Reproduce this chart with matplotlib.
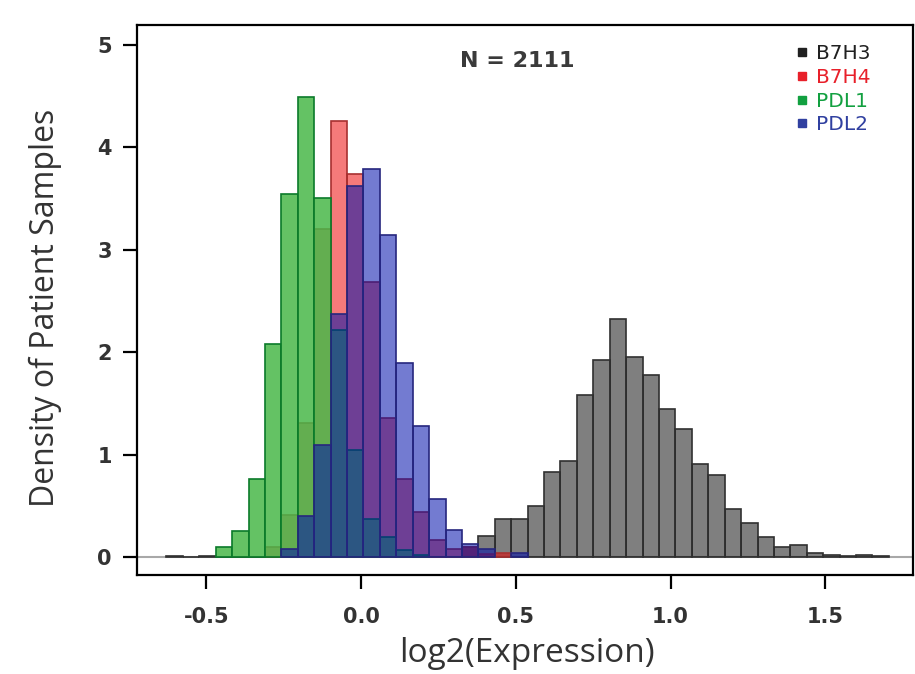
import numpy as np
import matplotlib
matplotlib.use("Agg")
import matplotlib.pyplot as plt
from matplotlib.lines import Line2D

# ==== Data (density per bin) ====
BIN_START = -0.62865
BIN_WIDTH = 0.05305

b7h3 = [0.01, 0.005, 0.01,
        0, 0, 0, 0, 0, 0, 0, 0, 0, 0, 0, 0, 0, 0, 0,
        0.10, 0.21, 0.38, 0.38, 0.50, 0.83, 0.94, 1.59, 1.93, 2.33, 1.96,
        1.78, 1.45, 1.25, 0.91, 0.80, 0.47, 0.34, 0.20, 0.10, 0.12, 0.04,
        0.02, 0.01, 0.02, 0.01]
b7h4 = [0, 0, 0, 0, 0, 0,
        0.10, 0.41, 1.31, 3.20, 4.26, 3.74, 2.69, 1.36, 0.77, 0.44, 0.17,
        0.08, 0.10, 0.03, 0.04,
        0, 0, 0, 0, 0, 0, 0, 0, 0, 0, 0, 0, 0, 0, 0, 0, 0, 0, 0, 0, 0, 0, 0]
pdl1 = [0, 0, 0,
        0.105, 0.26, 0.77, 2.08, 3.55, 4.49, 3.51, 2.22, 1.05, 0.38, 0.20,
        0.07, 0.02,
        0, 0, 0, 0, 0, 0, 0, 0, 0, 0, 0, 0, 0, 0, 0, 0, 0, 0, 0, 0, 0, 0, 0,
        0, 0, 0, 0, 0]
pdl2 = [0, 0, 0, 0, 0, 0, 0,
        0.08, 0.40, 1.10, 2.38, 3.62, 3.79, 3.15, 1.90, 1.28, 0.57, 0.27,
        0.13, 0.08, 0.0, 0.04,
        0, 0, 0, 0, 0, 0, 0, 0, 0, 0, 0, 0, 0, 0, 0, 0, 0, 0, 0, 0, 0, 0]

series_names = ["B7H3", "B7H4", "PDL1", "PDL2"]
x_ticks = [-0.5, 0.0, 0.5, 1.0, 1.5]
x_tick_labels = ["-0.5", "0.0", "0.5", "1.0", "1.5"]
y_ticks = [0, 1, 2, 3, 4, 5]
n_samples = 2111

# ==== Styles ====
FACE = [(0, 0, 0, 0.5),
        (0.93, 0, 0, 0.52),
        (73 / 255, 184 / 255, 73 / 255, 0.85),
        (0, 15 / 255, 172 / 255, 0.55)]
EDGE = ["#303030", "#a83030", "#0b7a2a", "#26267e"]
LEGEND_COLORS = ["#202020", "#e8202a", "#12a040", "#3040a0"]
TEXT_GRAY = "#333333"

fig = plt.figure(figsize=(9.15, 6.74), dpi=100)
ax = fig.add_axes([137 / 915, 99 / 674, 776 / 915, 550 / 674])

edges = BIN_START + BIN_WIDTH * np.arange(len(b7h3))
ax.axhline(0, color="#a8a8a8", lw=1.5, zorder=0.5)

for i, vals in enumerate([b7h3, b7h4, pdl1, pdl2]):
    vals = np.asarray(vals, dtype=float)
    keep = np.ones_like(vals, dtype=bool) if i == 0 else vals > 0
    ax.bar(edges[keep], vals[keep], width=BIN_WIDTH, align="edge",
           facecolor=FACE[i], edgecolor=EDGE[i], linewidth=1.2, zorder=1)

ax.set_xlim(-0.7237, 1.7835)
ax.set_ylim(-0.171, 5.195)

tick_font = {"family": "DejaVu Sans", "weight": "bold", "size": 15}
ax.set_xticks(x_ticks)
ax.set_xticklabels(x_tick_labels, fontdict=tick_font)
ax.set_yticks(y_ticks)
ax.set_yticklabels([str(t) for t in y_ticks], fontdict=tick_font)
ax.tick_params(axis="both", direction="out", length=10, width=1.6,
               colors="black", labelcolor=TEXT_GRAY, labelsize=15)
ax.tick_params(axis="x", pad=13)
ax.tick_params(axis="y", pad=8)

for sp in ax.spines.values():
    sp.set_linewidth(1.6)
    sp.set_color("black")

ax.set_xlabel("log2(Expression)", family="Open Sans", fontsize=24,
              color=TEXT_GRAY, va="baseline")
ax.xaxis.set_label_coords(0.5026, -0.159)
ax.set_ylabel("Density of Patient Samples", family="Open Sans", fontsize=23,
              color=TEXT_GRAY)
ax.yaxis.set_label_coords(-0.0966, 0.485)

ax.text(0.504, 4.79, f"N = {n_samples}", ha="center", va="baseline",
        family="DejaVu Sans", fontweight="bold", fontsize=16, color="#3a3a3a")

handles = [Line2D([], [], marker="s", ls="", color=c, markersize=6)
           for c in LEGEND_COLORS]
ax.legend(handles, series_names, loc="upper left",
          bbox_to_anchor=(796 / 915, 1 - 44 / 674), bbox_transform=fig.transFigure,
          frameon=False, labelcolor=LEGEND_COLORS,
          handlelength=0.6, handletextpad=0.4, labelspacing=0.24,
          borderpad=0, borderaxespad=0, prop={"family": "DejaVu Sans", "size": 14.5})

fig.savefig("out.png", dpi=100)
